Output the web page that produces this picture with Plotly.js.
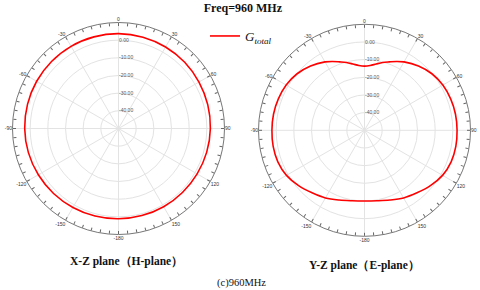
<!DOCTYPE html>
<html>
<head>
<meta charset="utf-8">
<script src="https://cdn.plot.ly/plotly-3.0.1.min.js"></script>
<style>html,body{margin:0;padding:0;background:#fff;}#chart{width:480px;height:290px;}</style>
</head>
<body>
<div id="chart"></div>
<script>
// H-plane (X-Z) gain, dB, angle in degrees (0 = top, clockwise)
const hAngles = [0,15,30,45,60,75,90,105,120,135,150,165,180,195,210,225,240,255,270,285,300,315,330,345,360];
const hGain   = [3.7,3.5,3.3,3.0,2.6,2.3,2.0,1.7,1.4,1.2,1.1,1.0,1.1,1.3,1.6,2.0,2.4,2.8,3.1,3.3,3.5,3.6,3.7,3.7,3.7];

// E-plane (Y-Z) gain, dB
const eAngles = [0,5,10,15,20,25,30,40,50,60,70,80,90,100,110,120,130,140,150,160,170,180,
                 190,200,210,220,230,240,250,260,270,280,290,300,310,320,330,335,340,345,350,355,360];
const eGain   = [-13.7,-13.2,-11.9,-10.3,-8.8,-7.0,-5.3,-2.5,-0.2,1.2,1.9,2.3,2.4,2.5,2.2,1.0,-1.3,-3.8,-5.8,-8.0,-9.5,-10.0,
                 -9.5,-8.0,-5.8,-3.8,-1.3,1.0,2.2,2.5,2.4,2.3,1.9,1.2,-0.2,-2.5,-5.3,-7.0,-8.8,-10.3,-11.9,-13.2,-13.7];

const angleTicks  = [0,30,60,90,120,150,180,210,240,270,300,330];
const angleLabels = ["0","30","60","90","120","150","-180","-150","-120","-90","-60","-30"];
const ringTicks   = [-40,-30,-20,-10,0];
const ringLabels  = ["-40.00","-30.00","-20.00","-10.00","0.00"];
const radialRange = [-50,10];

const serif = "Liberation Serif, Times New Roman, serif";

function gridPolar(dx, dy){
  return {
    domain:{x:dx, y:dy},
    bgcolor:"rgba(0,0,0,0)",
    angularaxis:{direction:"clockwise", rotation:90, tickmode:"array",
      tickvals:angleTicks, ticktext:angleLabels, ticks:"", showline:false,
      showgrid:true, gridcolor:"#e3e3e3", gridwidth:1,
      tickfont:{size:5, color:"#333", family:"Arial"}},
    radialaxis:{range:radialRange, angle:90, tickangle:90, tickmode:"array", tickvals:ringTicks,
      ticktext:ringLabels, showline:false, ticks:"", showgrid:true,
      gridcolor:"#e3e3e3", gridwidth:1, side:"clockwise",
      tickfont:{size:5, color:"#555", family:"Arial"}}
  };
}
function tickPolar(dx, dy){
  return {
    domain:{x:dx, y:dy},
    bgcolor:"rgba(0,0,0,0)",
    angularaxis:{direction:"clockwise", rotation:90, tickmode:"linear", tick0:0, dtick:5,
      ticks:"inside", ticklen:3, tickcolor:"#666", showticklabels:false,
      showline:true, linecolor:"#777", linewidth:1, showgrid:false},
    radialaxis:{range:radialRange, visible:false}
  };
}

const dxL = [12.5/480, 224.5/480], dyL = [1-234.5/290, 1-22.5/290];
const dxR = [258.5/480, 470.5/480], dyR = [1-236.3/290, 1-24.3/290];

const traces = [
  {type:"scatterpolar", subplot:"polar", r:hGain, theta:hAngles, mode:"lines",
   line:{color:"#ff0000", width:1.6, shape:"spline"}, name:"<i>G<sub>total</sub></i>", showlegend:true},
  {type:"scatterpolar", subplot:"polar2", r:eGain, theta:eAngles, mode:"lines",
   line:{color:"#ff0000", width:1.6, shape:"spline"}, name:"E", showlegend:false},
  {type:"scatterpolar", subplot:"polar3", r:[], theta:[], mode:"lines", showlegend:false, hoverinfo:"skip"},
  {type:"scatterpolar", subplot:"polar4", r:[], theta:[], mode:"lines", showlegend:false, hoverinfo:"skip"}
];

const layout = {
  width:480, height:290,
  margin:{l:0, r:0, t:0, b:0},
  paper_bgcolor:"#fff",
  font:{family:serif},
  title:{text:"<b>Freq=960 MHz</b>", x:0.506, xanchor:"center", y:1-7.5/290, yanchor:"middle",
         font:{family:serif, size:12, color:"#111"}},
  polar:gridPolar(dxL, dyL),
  polar2:gridPolar(dxR, dyR),
  polar3:tickPolar(dxL, dyL),
  polar4:tickPolar(dxR, dyR),
  showlegend:true,
  legend:{x:205/480, y:1-21/290, xanchor:"left", yanchor:"top", bgcolor:"rgba(0,0,0,0)",
          font:{family:serif, size:13, color:"#111"}},
  annotations:[
    {text:"<b>X-Z plane（H-plane）</b>", x:126/480, y:1-261/290, xref:"paper", yref:"paper",
     xanchor:"center", yanchor:"middle",
     showarrow:false, font:{family:serif, size:11.5, color:"#111"}},
    {text:"<b>Y-Z plane（E-plane）</b>", x:364.5/480, y:1-265/290, xref:"paper", yref:"paper",
     xanchor:"center", yanchor:"middle",
     showarrow:false, font:{family:serif, size:11.5, color:"#111"}},
    {text:"(c)960MHz", x:241/480, y:1-283/290, xref:"paper", yref:"paper",
     xanchor:"center", yanchor:"middle",
     showarrow:false, font:{family:serif, size:10.5, color:"#111"}}
  ]
};

Plotly.newPlot("chart", traces, layout, {staticPlot:true, displayModeBar:false});
</script>
</body>
</html>
